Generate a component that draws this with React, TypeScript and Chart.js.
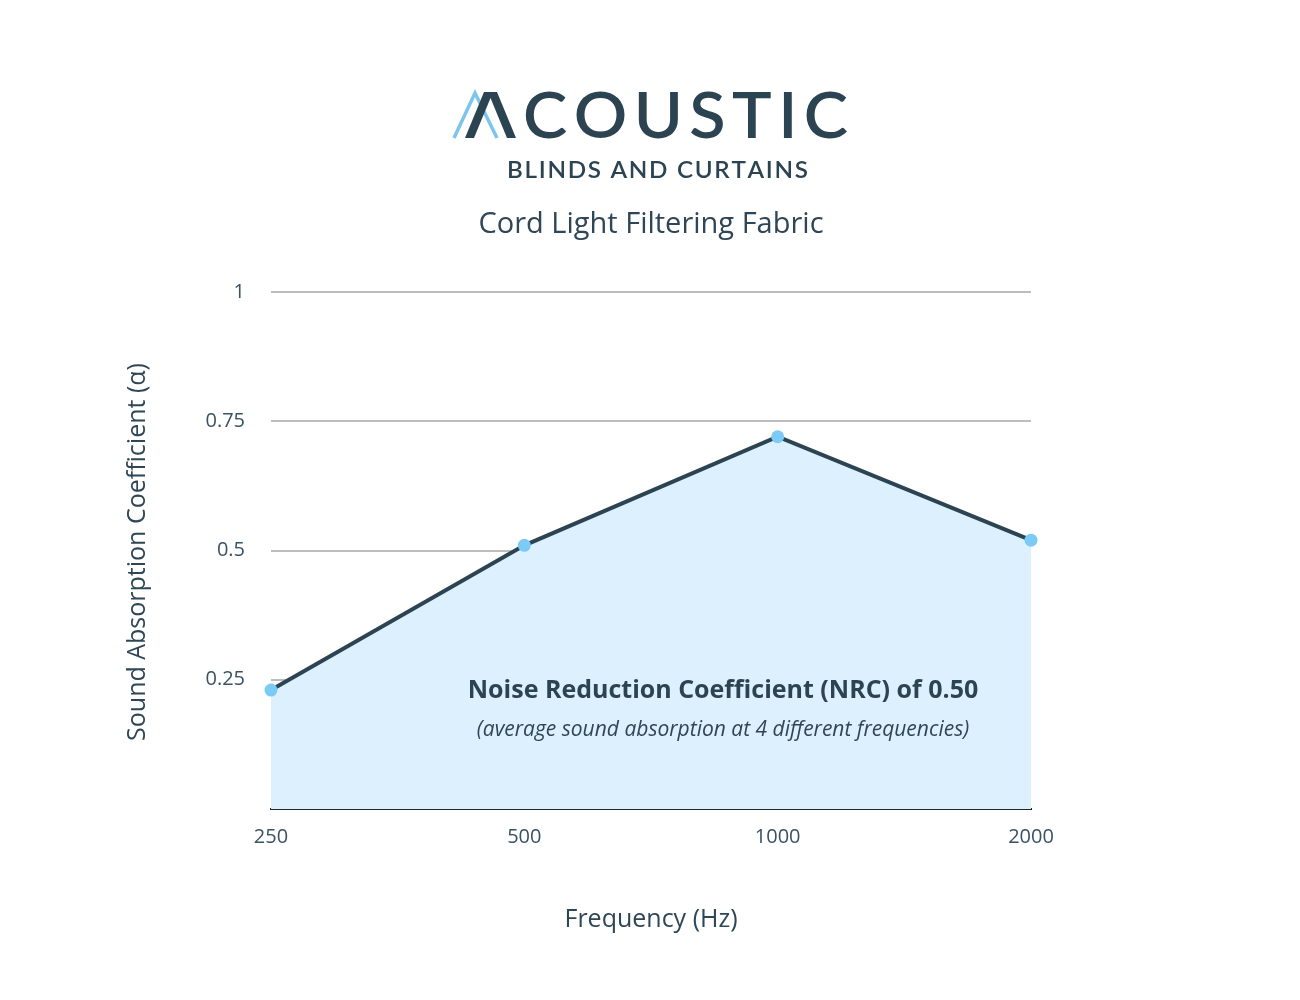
import React, { useEffect, useRef } from 'react';
import { Chart, registerables } from 'chart.js';

Chart.register(...registerables);

// ---- data ----
const frequencies = ['250', '500', '1000', '2000'];
const absorption = [0.23, 0.51, 0.72, 0.52];
const yTickValues = [0, 0.25, 0.5, 0.75, 1];
const brandName = 'COUSTIC';
const brandSub = 'BLINDS AND CURTAINS';
const chartTitle = 'Cord Light Filtering Fabric';
const nrcText = 'Noise Reduction Coefficient (NRC) of 0.50';
const nrcNote = '(average sound absorption at 4 different frequencies)';
const xTitle = 'Frequency (Hz)';
const yTitle = 'Sound Absorption Coefficient (α)';

const DARK = '#2c4452';
const TEXT = '#2f4656';
const LIGHT_BLUE = '#7ccaf6';
const FILL = '#ddf0fd';

function drawSpaced(ctx: CanvasRenderingContext2D, text: string, x0: number, x1: number, y: number, sx = 1) {
  const chars = text.split('');
  const widths = chars.map((c) => ctx.measureText(c).width * sx);
  const total = widths.reduce((a, b) => a + b, 0);
  const gap = chars.length > 1 ? (x1 - x0 - total) / (chars.length - 1) : 0;
  let x = x0;
  ctx.textAlign = 'left';
  chars.forEach((c, i) => {
    ctx.save();
    ctx.translate(x, y);
    ctx.scale(sx, 1);
    ctx.fillText(c, 0, 0);
    ctx.restore();
    x += widths[i] + gap;
  });
}

const textPlugin = {
  id: 'textPlugin',
  afterDraw(chart: any) {
    const ctx: CanvasRenderingContext2D = chart.ctx;
    ctx.save();
    // logo "A"
    ctx.strokeStyle = '#7cc6ee';
    ctx.lineWidth = 3.5;
    ctx.lineJoin = 'miter';
    ctx.beginPath();
    ctx.moveTo(454, 138);
    ctx.lineTo(475, 93);
    ctx.lineTo(497, 138);
    ctx.stroke();
    ctx.fillStyle = DARK;
    ctx.beginPath();
    ctx.moveTo(465, 138);
    ctx.lineTo(484, 92);
    ctx.lineTo(497, 92);
    ctx.lineTo(516, 138);
    ctx.lineTo(507, 138);
    ctx.lineTo(490.5, 98);
    ctx.lineTo(474, 138);
    ctx.closePath();
    ctx.fill();
    // logo text
    ctx.textBaseline = 'alphabetic';
    ctx.font = '600 64px Lato';
    drawSpaced(ctx, brandName, 523, 848, 138, 1.04);
    ctx.font = '600 22px Lato';
    drawSpaced(ctx, brandSub, 507, 808, 178, 1.1);

    // title
    ctx.fillStyle = TEXT;
    ctx.textAlign = 'center';
    ctx.font = '29px "Open Sans"';
    ctx.fillText(chartTitle, 651, 233);

    // annotation
    ctx.fillStyle = DARK;
    ctx.font = 'bold 25px "Open Sans"';
    ctx.fillText(nrcText, 723, 698);
    ctx.fillStyle = TEXT;
    ctx.font = 'italic 21px "Open Sans"';
    ctx.fillText(nrcNote, 723, 736);

    // axis titles
    ctx.font = '25px "Open Sans"';
    ctx.fillText(xTitle, 651, 927);
    ctx.translate(145, 552);
    ctx.rotate(-Math.PI / 2);
    ctx.fillText(yTitle, 0, 0);
    ctx.restore();
  },
};

export default function App() {
  const ref = useRef<HTMLCanvasElement>(null);
  useEffect(() => {
    let chart: Chart | null = null;
    let cancelled = false;
    const make = () => {
      if (cancelled || !ref.current) return;
      chart = new Chart(ref.current, {
        type: 'line',
        data: {
          labels: frequencies,
          datasets: [
            {
              data: absorption,
              borderColor: DARK,
              borderWidth: 4,
              backgroundColor: FILL,
              fill: 'origin',
              tension: 0,
              pointRadius: 6.5,
              pointHoverRadius: 6.5,
              pointBackgroundColor: LIGHT_BLUE,
              pointBorderWidth: 0,
              clip: false as any,
            },
          ],
        },
        options: {
          responsive: false,
          animation: false,
          devicePixelRatio: 1,
          layout: { padding: { left: 0, top: 292, right: 269, bottom: 0 } },
          plugins: { legend: { display: false }, tooltip: { enabled: false } },
          scales: {
            x: {
              type: 'category',
              offset: false,
              z: 1,
              grid: { display: false, drawTicks: false },
              border: { display: true, color: '#1d2830', width: 2 },
              ticks: {
                padding: 16,
                maxRotation: 0,
                color: '#3a5262',
                font: { family: 'Open Sans', size: 20 },
              },
              afterFit: (s: any) => {
                s.height = 191;
              },
            },
            y: {
              min: 0,
              max: 1,
              afterBuildTicks: (s: any) => {
                s.ticks = yTickValues.map((v) => ({ value: v }));
              },
              grid: {
                color: (c: any) => (c.tick && c.tick.value === 0 ? 'rgba(0,0,0,0)' : '#bdbdbd'),
                lineWidth: 2,
                drawTicks: false,
              },
              border: { display: false },
              ticks: {
                padding: 26,
                color: '#3a5262',
                font: { family: 'Open Sans', size: 20 },
                callback: (v: any) => (v === 0 ? '' : String(v)),
              },
              afterFit: (s: any) => {
                s.width = 271;
              },
            },
          },
        },
        plugins: [textPlugin],
      });
    };
    const fonts = (document as any).fonts;
    if (fonts && fonts.load) {
      Promise.all([
        fonts.load('20px "Open Sans"'),
        fonts.load('bold 20px "Open Sans"'),
        fonts.load('italic 20px "Open Sans"'),
        fonts.load('600 20px Lato'),
      ])
        .catch(() => null)
        .then(make);
    } else {
      make();
    }
    return () => {
      cancelled = true;
      if (chart) chart.destroy();
    };
  }, []);
  return (
    <div style={{ position: 'absolute', left: 0, top: 0, width: 1300, height: 1000, background: '#fff' }}>
      <canvas ref={ref} width={1300} height={1000} style={{ display: 'block', width: 1300, height: 1000 }} />
    </div>
  );
}
